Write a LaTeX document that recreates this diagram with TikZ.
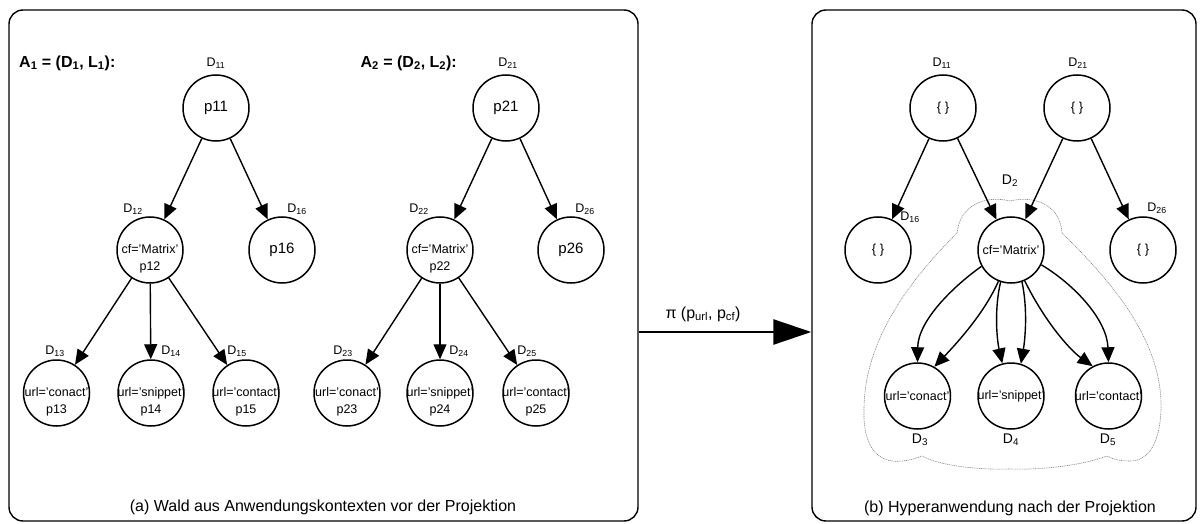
\documentclass[tikz,border=0pt]{standalone}
\usepackage{fontspec}
\setmainfont{Liberation Sans}
\usetikzlibrary{arrows.meta}
\begin{document}
\begin{tikzpicture}[x=1pt,y=-1pt,
  panel/.style={draw, line width=1.4pt, rounded corners=14pt, rectangle, inner sep=0pt},
  nd/.style={circle, draw, line width=1.5pt, minimum size=66pt, inner sep=0pt, font=\fontsize{15}{18}\selectfont},
  two/.style={align=center, font=\fontsize{12.5}{16.5}\selectfont, yshift=-9pt, inner sep=0pt},
  one/.style={font=\fontsize{12.5}{15}\selectfont, inner sep=0pt},
  dl/.style={font=\fontsize{12.5}{14}\selectfont, inner sep=0pt},
  dlb/.style={font=\fontsize{14}{16}\selectfont, inner sep=0pt},
  alab/.style={font=\fontsize{16}{18}\selectfont\bfseries, inner sep=0pt},
  captxt/.style={font=\fontsize{16}{18}\selectfont, inner sep=0pt},
  edge/.style={line width=1.4pt, -{Triangle[length=15pt,width=13pt]}},
  bigarrow/.style={line width=2.5pt, -{Triangle[length=38pt,width=25pt]}},
  blob/.style={draw=gray, line width=0.6pt, dash pattern=on 1pt off 0.8pt},
]
\useasboundingbox (0,0) rectangle (1203,524);

% panels
\node[panel, minimum width=629pt, minimum height=511pt] (pa) at (323.5,265.5) {};
\node[panel, minimum width=384pt, minimum height=511pt] (pb) at (1004,265.5) {};

% labels A
\node[alab, anchor=west] (a1) at (19,63) {A\textsubscript{1} = (D\textsubscript{1}, L\textsubscript{1}):};
\node[alab, anchor=east] (a2) at (457,63) {A\textsubscript{2} = (D\textsubscript{2}, L\textsubscript{2}):};

% tree 1
\node[nd] (p11) at (216,108) {p11};
\node[nd, label={[two]center:{cf='Matrix'\\p12}}] (p12) at (150,250) {};
\node[nd] (p16) at (282,250) {p16};
\node[nd, label={[two]center:{url='conact'\\p13}}] (p13) at (56.5,393) {};
\node[nd, label={[two]center:{url='snippet'\\p14}}] (p14) at (151,393) {};
\node[nd, label={[two]center:{url='contact'\\p15}}] (p15) at (246,393) {};
\draw[edge] (p11) -- (p12);
\draw[edge] (p11) -- (p16);
\draw[edge] (p12) -- (p13);
\draw[edge] (p12) -- (p14);
\draw[edge] (p12) -- (p15);
\node[dl] (d11) at (216,63) {D\textsubscript{11}};
\node[dl] (d12) at (133,209) {D\textsubscript{12}};
\node[dl] (d16) at (297,209) {D\textsubscript{16}};
\node[dl] (d13) at (55,351) {D\textsubscript{13}};
\node[dl] (d14) at (171,351) {D\textsubscript{14}};
\node[dl] (d15) at (237,351) {D\textsubscript{15}};

% tree 2
\node[nd] (p21) at (506,108) {p21};
\node[nd, label={[two]center:{cf='Matrix'\\p22}}] (p22) at (440,250) {};
\node[nd] (p26) at (571,250) {p26};
\node[nd, label={[two]center:{url='conact'\\p23}}] (p23) at (347,393) {};
\node[nd, label={[two]center:{url='snippet'\\p24}}] (p24) at (440,393) {};
\node[nd, label={[two]center:{url='contact'\\p25}}] (p25) at (536,393) {};
\draw[edge] (p21) -- (p22);
\draw[edge] (p21) -- (p26);
\draw[edge] (p22) -- (p23);
\draw[edge] (p22) -- (p24);
\draw[edge] (p22) -- (p25);
\node[dl] (d21) at (508,63) {D\textsubscript{21}};
\node[dl] (d22) at (419,209) {D\textsubscript{22}};
\node[dl] (d26) at (585,209) {D\textsubscript{26}};
\node[dl] (d23) at (343,351) {D\textsubscript{23}};
\node[dl] (d24) at (459,351) {D\textsubscript{24}};
\node[dl] (d25) at (527,351) {D\textsubscript{25}};

\node[captxt] (capa) at (323,507) {(a) Wald aus Anwendungskontexten vor der Projektion};

% projection arrow
\coordinate (ps) at (pa.east |- 0,332);
\coordinate (pe) at (pb.west |- 0,332);
\draw[bigarrow] (ps) -- (pe);
\node[captxt] (pi) at (703,314) {π (p\textsubscript{url}, p\textsubscript{cf})};

% right panel
\draw[blob] (957,233) .. controls (960,205) and (985,195) .. (1010,201)
  .. controls (1035,195) and (1060,205) .. (1062,233)
  .. controls (1110,280) and (1163,340) .. (1161,410)
  .. controls (1160,440) and (1150,461) .. (1130,461)
  .. controls (1120,461) and (1112,459) .. (1107,456)
  .. controls (1080,466) and (1040,470) .. (1010,469)
  .. controls (980,470) and (940,466) .. (922,456)
  .. controls (912,460) and (902,462) .. (892,461)
  .. controls (872,458) and (863,438) .. (864,410)
  .. controls (864,340) and (910,280) .. cycle;

\node[nd] (q11) at (943,108) {\fontsize{13}{15}\selectfont\{ \}};
\node[nd] (q21) at (1077,108) {\fontsize{13}{15}\selectfont\{ \}};
\node[nd] (q16) at (878,250) {\fontsize{13}{15}\selectfont\{ \}};
\node[nd, label={[one]center:{cf='Matrix'}}] (m) at (1011,250) {};
\node[nd] (q26) at (1143,250) {\fontsize{13}{15}\selectfont\{ \}};
\node[nd, label={[one]center:{url='conact'}}] (c3) at (917.5,396) {};
\node[nd, label={[one]center:{url='snippet'}}] (c4) at (1011,396) {};
\node[nd, label={[one]center:{url='contact'}}] (c5) at (1108.5,396) {};

\draw[edge] (q11) -- (q16);
\draw[edge] (q11) -- (m);
\draw[edge] (q21) -- (m);
\draw[edge] (q21) -- (q26);

\draw[edge] (m.209) .. controls (955,285) and (918,320) .. (c3.north);
\draw[edge] (m.248) .. controls (985,312) and (958,342) .. (c3.60);
\draw[edge] (m.252) .. controls (994,310) and (997,340) .. (c4.105);
\draw[edge] (m.289) .. controls (1028,310) and (1025,340) .. (c4.73);
\draw[edge] (m.294) .. controls (1045,322) and (1070,350) .. (c5.118);
\draw[edge] (m.334) .. controls (1075,285) and (1107,320) .. (c5.north);

\node[dl] (e11) at (942,63) {D\textsubscript{11}};
\node[dl] (e21) at (1078,63) {D\textsubscript{21}};
\node[dl] (e16) at (910,217) {D\textsubscript{16}};
\node[dlb] (e2) at (1010,181) {D\textsubscript{2}};
\node[dl] (e26) at (1157,208) {D\textsubscript{26}};
\node[dlb] (e3) at (920,440) {D\textsubscript{3}};
\node[dlb] (e4) at (1011,440) {D\textsubscript{4}};
\node[dlb] (e5) at (1108,440) {D\textsubscript{5}};

\node[captxt] (capb) at (1010,508) {(b) Hyperanwendung nach der Projektion};
\end{tikzpicture}
\end{document}
